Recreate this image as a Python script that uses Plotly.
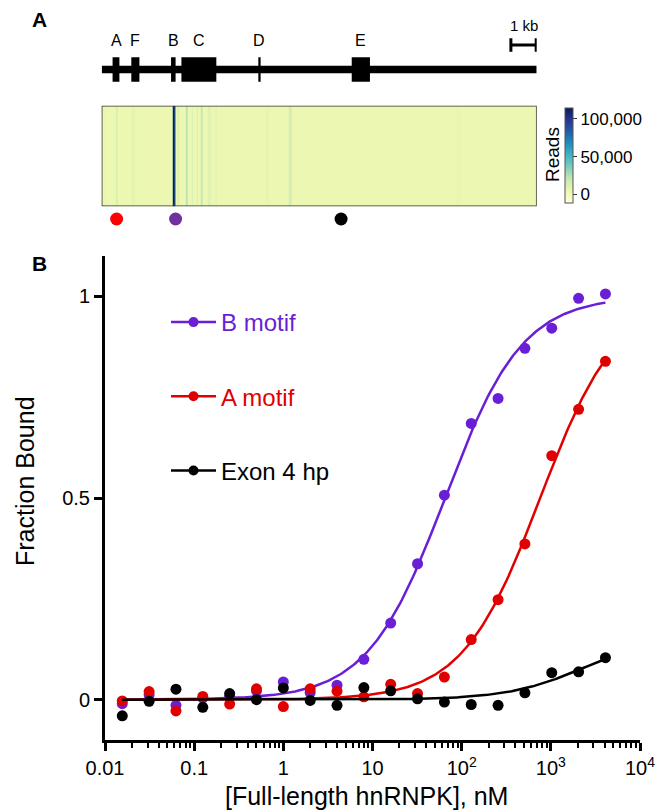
import numpy as np
import plotly.graph_objects as go

W, H = 668, 812

# ---------------- Panel B data (binding curves) ----------------
conc_nM = [0.015625, 0.03125, 0.0625, 0.125, 0.25, 0.5, 1, 2, 4, 8, 16, 32,
           64, 128, 256, 512, 1024, 2048, 4096]
b_motif = [-0.010, 0.012, -0.014, 0.004, 0.008, 0.022, 0.044, 0.018, 0.036, 0.100,
           0.190, 0.337, 0.507, 0.685, 0.747, 0.871, 0.921, 0.995, 1.006]
a_motif = [-0.003, 0.020, -0.028, 0.008, -0.011, 0.027, -0.017, 0.027, 0.021, 0.007,
           0.038, 0.015, 0.056, 0.149, 0.248, 0.386, 0.605, 0.720, 0.839]
exon4_hp = [-0.040, -0.004, 0.026, -0.019, 0.015, 0.000, 0.029, -0.002, -0.014, 0.030,
            0.022, 0.002, -0.006, -0.012, -0.014, 0.017, 0.067, 0.069, 0.104]

series_names = ["B motif", "A motif", "Exon 4 hp"]
series_values = [b_motif, a_motif, exon4_hp]
series_colors = ["#6a1fd6", "#e10000", "#000000"]
# fitted binding parameters (Kd in nM, Bmax)
fit_kd = [65.0, 760.0, 2400.0]
fit_bmax = [1.0, 1.0, 0.16]

x_tick_vals = [0.01, 0.1, 1, 10, 100, 1000, 10000]
x_tick_text = ["0.01", "0.1", "1", "10", "10<sup>2</sup>", "10<sup>3</sup>", "10<sup>4</sup>"]
y_tick_vals = [0, 0.5, 1]
y_tick_text = ["0", "0.5", "1"]
x_title = "[Full-length hnRNPK], nM"
y_title = "Fraction Bound"

# ---------------- Panel A data (gene + reads) ----------------
gene_length_kb = 17.19
exon_names = ["A", "F", "B", "C", "D", "E"]
exon_start_kb = [0.43, 1.17, 2.74, 3.15, 6.19, 9.88]
exon_end_kb = [0.70, 1.49, 2.92, 4.53, 6.28, 10.60]
scalebar_start_kb = 16.17
scalebar_len_kb = 1.0

reads_background = 4000
reads_start_kb = [0.10, 0.55, 1.20, 2.79, 2.82, 2.90, 3.00, 3.30, 3.55, 3.75, 3.92, 4.20, 4.50, 6.50, 7.40, 14.0]
reads_end_kb   = [0.15, 0.65, 1.30, 2.82, 2.90, 2.93, 3.05, 3.40, 3.60, 3.80, 3.98, 4.30, 4.55, 6.60, 7.50, 14.2]
reads_value    = [7000, 12000, 8000, 60000, 112000, 60000, 15000, 22000, 12000, 12000, 20000, 10000, 9000, 6500, 14000, 5500]

motif_pos_kb = [0.59, 2.92, 9.46]
motif_dot_colors = ["#ff0000", "#7030a0", "#000000"]

reads_colorscale = ["#ffffd9", "#edf8b1", "#c7e9b4", "#7fcdbb", "#41b6c4",
                    "#1d91c0", "#225ea8", "#253494", "#081d58"]
reads_zmin, reads_zmax = -12000, 114000
reads_ticks = [0, 50000, 100000]

FONT = "Liberation Sans, Arial, sans-serif"


def pxx(p):
    return p / W


def pxy(p):
    return 1 - p / H


fig = go.Figure()

# ---------- Panel B traces ----------
xfit = np.logspace(np.log10(conc_nM[0]), np.log10(conc_nM[-1]), 300)
for name, vals, col, kd, bm in zip(series_names, series_values, series_colors, fit_kd, fit_bmax):
    yfit = bm * xfit / (kd + xfit)
    fig.add_trace(go.Scatter(x=xfit, y=yfit, mode="lines", line=dict(color=col, width=2.5),
                             showlegend=False, hoverinfo="skip", xaxis="x", yaxis="y"))
    fig.add_trace(go.Scatter(x=conc_nM, y=vals, mode="markers",
                             marker=dict(color=col, size=11, line=dict(width=0)),
                             showlegend=False, name=name, xaxis="x", yaxis="y"))

# legend entries
for i, (name, col) in enumerate(zip(series_names, series_colors)):
    fig.add_trace(go.Scatter(x=[None], y=[None], mode="lines+markers",
                             line=dict(color=col, width=2.5),
                             marker=dict(color=col, size=10),
                             name=f"<span style='color:{col}'>{name}</span>",
                             legendgroup=f"g{i}", legendrank=i + 1, showlegend=True,
                             xaxis="x", yaxis="y"))

# ---------- Panel A: reads heatmap ----------
edges = sorted(set([0.0, gene_length_kb] + reads_start_kb + reads_end_kb))
zrow = []
for a, b in zip(edges[:-1], edges[1:]):
    mid = 0.5 * (a + b)
    v = reads_background
    for s, e, r in zip(reads_start_kb, reads_end_kb, reads_value):
        if s <= mid < e:
            v = r
    zrow.append(v)

fig.add_trace(go.Heatmap(
    x=edges, y=[0, 1], z=[zrow], zmin=reads_zmin, zmax=reads_zmax,
    colorscale=[[i / (len(reads_colorscale) - 1), c] for i, c in enumerate(reads_colorscale)],
    xaxis="x2", yaxis="y3", hoverinfo="skip",
    colorbar=dict(
        x=pxx(565), xanchor="left", xpad=0, ypad=0,
        y=pxy(155.8), yanchor="middle", len=95 / H, lenmode="fraction",
        thickness=8, outlinewidth=1, outlinecolor="#555555",
        ticks="outside", ticklen=4, tickwidth=1, tickcolor="#333333",
        tickvals=reads_ticks, tickformat=",",
        tickfont=dict(family=FONT, size=17, color="black"),
    ),
))

# motif dots
fig.add_trace(go.Scatter(x=motif_pos_kb, y=[219] * len(motif_pos_kb), mode="markers",
                         marker=dict(color=motif_dot_colors, size=13, line=dict(width=0)),
                         showlegend=False, hoverinfo="skip", xaxis="x2", yaxis="y2"))

shapes = []
# gene backbone
shapes.append(dict(type="rect", xref="x2", yref="y2", x0=0, x1=gene_length_kb, y0=65.7, y1=73.3,
                   fillcolor="black", line=dict(width=0)))
for s, e in zip(exon_start_kb, exon_end_kb):
    shapes.append(dict(type="rect", xref="x2", yref="y2", x0=s, x1=e, y0=57.3, y1=81.7,
                       fillcolor="black", line=dict(width=0)))
# scale bar
sb0, sb1 = scalebar_start_kb, scalebar_start_kb + scalebar_len_kb
shapes.append(dict(type="line", xref="x2", yref="y2", x0=sb0, x1=sb1, y0=45, y1=45,
                   line=dict(color="black", width=3)))
for xv in (sb0, sb1):
    shapes.append(dict(type="line", xref="x2", yref="y2", x0=xv, x1=xv, y0=38.3, y1=51.7,
                       line=dict(color="black", width=3)))
# heatmap frame
shapes.append(dict(type="rect", xref="x2", yref="y3", x0=0, x1=gene_length_kb, y0=0, y1=1,
                   line=dict(color="#333333", width=1.5), fillcolor="rgba(0,0,0,0)"))

annotations = []
for nm, s, e in zip(exon_names, exon_start_kb, exon_end_kb):
    annotations.append(dict(x=0.5 * (s + e), y=40, xref="x2", yref="y2", text=nm, showarrow=False,
                            font=dict(family=FONT, size=16, color="black"),
                            xanchor="center", yanchor="middle"))
annotations.append(dict(x=0.5 * (sb0 + sb1), y=25, xref="x2", yref="y2", text="1 kb", showarrow=False,
                        font=dict(family=FONT, size=15, color="black"), xanchor="center", yanchor="middle"))
annotations.append(dict(x=pxx(553), y=pxy(155), xref="paper", yref="paper", text="Reads", textangle=-90,
                        showarrow=False, font=dict(family=FONT, size=19, color="black"),
                        xanchor="center", yanchor="middle"))
annotations.append(dict(x=pxx(39), y=pxy(20), xref="paper", yref="paper", text="<b>A</b>",
                        showarrow=False, font=dict(family=FONT, size=21, color="black"),
                        xanchor="center", yanchor="middle"))
annotations.append(dict(x=pxx(39), y=pxy(263), xref="paper", yref="paper", text="<b>B</b>",
                        showarrow=False, font=dict(family=FONT, size=21, color="black"),
                        xanchor="center", yanchor="middle"))
# axis titles of panel B
annotations.append(dict(x=pxx(366), y=pxy(796), xref="paper", yref="paper", text=x_title,
                        showarrow=False, font=dict(family=FONT, size=25, color="black"),
                        xanchor="center", yanchor="middle"))
annotations.append(dict(x=pxx(25), y=pxy(481), xref="paper", yref="paper", text=y_title, textangle=-90,
                        showarrow=False, font=dict(family=FONT, size=25, color="black"),
                        xanchor="center", yanchor="middle"))

minor_vals = [m * 10.0 ** e for e in range(-2, 4) for m in range(2, 10)]

fig.update_layout(
    width=W, height=H, margin=dict(l=0, r=0, t=0, b=0),
    paper_bgcolor="white", plot_bgcolor="rgba(0,0,0,0)",
    font=dict(family=FONT, color="black"),
    showlegend=True,
    legend=dict(x=pxx(166), y=pxy(300), xanchor="left", yanchor="top",
                bgcolor="rgba(0,0,0,0)", borderwidth=0, itemwidth=45,
                tracegroupgap=40, traceorder="grouped",
                font=dict(family=FONT, size=24, color="black")),
    xaxis=dict(type="log", domain=[pxx(105), pxx(640)], range=[-2, 4], anchor="y",
               tickmode="array", tickvals=x_tick_vals, ticktext=x_tick_text,
               ticks="outside", ticklen=8, tickwidth=2.5, tickcolor="black",
               showline=True, linewidth=3, linecolor="black", showgrid=False, zeroline=False,
               tickfont=dict(family=FONT, size=20, color="black"),
               minor=dict(tickmode="array", tickvals=minor_vals, ticks="outside", ticklen=5,
                          tickwidth=2, tickcolor="black", showgrid=False),
               automargin=False, fixedrange=True),
    yaxis=dict(domain=[pxy(740), pxy(256)], range=[-0.1, 1.1], anchor="x",
               tickmode="array", tickvals=y_tick_vals, ticktext=y_tick_text,
               ticks="outside", ticklen=8, tickwidth=2.5, tickcolor="black",
               showline=True, linewidth=3, linecolor="black", showgrid=False, zeroline=False,
               tickfont=dict(family=FONT, size=20, color="black"),
               automargin=False, fixedrange=True),
    xaxis2=dict(domain=[pxx(101.7), pxx(536.7)], range=[0, gene_length_kb], anchor="y2",
                visible=False, fixedrange=True),
    yaxis2=dict(domain=[pxy(235), pxy(10)], range=[235, 10], anchor="x2",
                visible=False, fixedrange=True),
    yaxis3=dict(domain=[pxy(206.3), pxy(105.7)], range=[0, 1], anchor="x2",
                visible=False, fixedrange=True),
    shapes=shapes,
    annotations=annotations,
)

fig.write_html("out.html", config={"displayModeBar": False},
               post_script="document.body.style.margin='0';document.body.style.overflow='hidden';")
